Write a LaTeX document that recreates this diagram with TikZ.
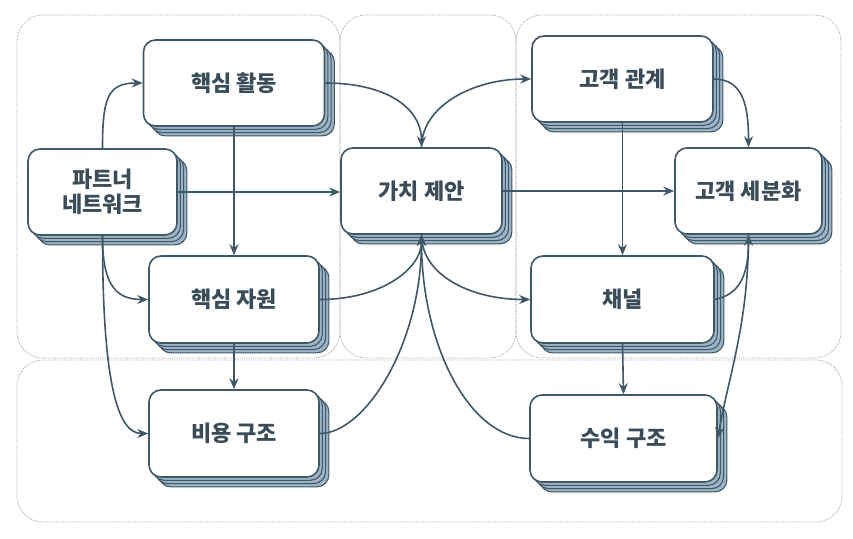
\documentclass[tikz,border=0pt]{standalone}
\usepackage{fontspec}
\setmainfont{Noto Sans CJK KR}
\usepackage{tikz}
\usetikzlibrary{arrows.meta,shadows}
\definecolor{cardline}{RGB}{62,88,103}
\definecolor{cardshade}{RGB}{158,180,196}
\definecolor{cardtext}{RGB}{58,76,88}
\definecolor{zonegray}{RGB}{160,165,172}

\begin{document}
\begin{tikzpicture}[x=1pt, y=-1pt,
    card/.style={draw=cardline, line width=1.6pt, fill=white, rounded corners=12pt,
        text=cardtext, font=\bfseries\fontsize{22}{25}\selectfont, align=center,
        copy shadow={shadow xshift=9.9pt, shadow yshift=-9.9pt, fill=cardshade, draw=cardline, line width=1.1pt},
        copy shadow={shadow xshift=6.6pt, shadow yshift=-6.6pt, fill=cardshade, draw=cardline, line width=1.1pt},
        copy shadow={shadow xshift=3.3pt, shadow yshift=-3.3pt, fill=cardshade, draw=cardline, line width=1.1pt}},
    zone/.style={draw=zonegray, densely dotted, line width=0.8pt, rounded corners=26pt},
    link/.style={draw=cardline, line width=1.6pt, -{Stealth[length=11pt,width=9pt]}}]

    \useasboundingbox (0,0) rectangle (853,538);

    % Zones
    \draw[zone] (17,15) rectangle (340,358);
    \draw[zone] (340,15) rectangle (516,358);
    \draw[zone] (516,15) rectangle (841,358);
    \draw[zone] (17,360) rectangle (842,522);

    % Cards
    \node[card, minimum width=149pt, minimum height=86pt] (part) at (102.5,192) {파트너\\네트워크};
    \node[card, minimum width=181pt, minimum height=86pt] (act) at (234,83) {핵심 활동};
    \node[card, minimum width=170pt, minimum height=87pt] (res) at (234,299.5) {핵심 자원};
    \node[card, minimum width=170pt, minimum height=87pt] (cost) at (234,433.5) {비용 구조};
    \node[card, minimum width=161pt, minimum height=86pt] (val) at (421.5,191) {가치 제안};
    \node[card, minimum width=181pt, minimum height=86pt] (rel) at (622.5,79) {고객 관계};
    \node[card, minimum width=147pt, minimum height=86pt] (seg) at (748.5,191) {고객 세분화};
    \node[card, minimum width=183pt, minimum height=87pt] (chan) at (622.5,299.5) {채널};
    \node[card, minimum width=187pt, minimum height=87pt] (rev) at (623.5,438.5) {수익 구조};

    % Left side
    \draw[link] (part.north) .. controls +(0,-50) and +(-35,0) .. (act.west);
    \draw[link] (part.east) -- (part.east -| val.west);
    \draw[link] (part.south) .. controls +(0,45) and +(-35,0) .. (res.west);
    \draw[link] (part.south) .. controls +(0,150) and +(-30,0) .. (cost.west);
    \draw[link] (act.south) -- (res.north);
    \draw[link] (res.south) -- (cost.north);
    \draw[link] (act.east) .. controls +(60,0) and +(0,-40) .. (val.north);
    \draw[link] (res.east) .. controls +(60,0) and +(0,35) .. (val.south);
    \draw[link] (cost.east) .. controls +(45,0) and +(0,110) .. (val.south);

    % Right side
    \draw[link] (val.north) .. controls +(0,-40) and +(-60,0) .. (rel.west);
    \draw[link] (val.east) -- (val.east -| seg.west);
    \draw[link] (val.south) .. controls +(0,40) and +(-60,0) .. (chan.west);
    \draw[link] (rev.west) .. controls +(-60,0) and +(0,110) .. (val.south);
    \draw[link] (rel.south) -- (chan.north);
    \draw[link] (chan.south) -- (rev.north);
    \draw[link] (rel.east) .. controls +(30,0) and +(0,-40) .. (seg.north);
    \draw[link] (chan.east) .. controls +(25,-5) and +(0,40) .. (seg.south);
    \draw[link] (seg.south) .. controls +(0,90) and +(10,-60) .. (rev.east);
\end{tikzpicture}
\end{document}
